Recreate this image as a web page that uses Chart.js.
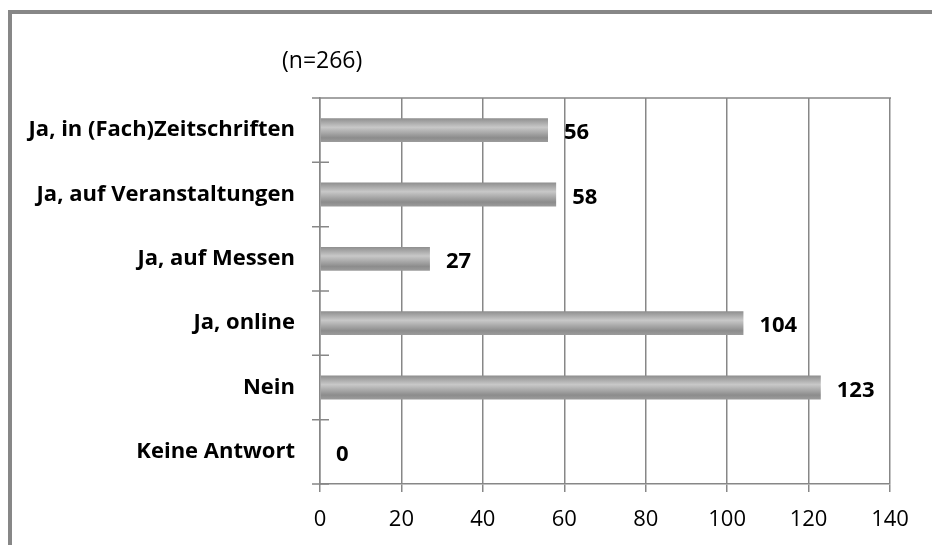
<!DOCTYPE html>
<html>
<head>
<meta charset="utf-8">
<script src="https://cdn.jsdelivr.net/npm/chart.js@4.4.0/dist/chart.umd.min.js"></script>
<style>
  html, body { margin: 0; padding: 0; background: #fff; }
  #wrap { position: relative; width: 932px; height: 545px; overflow: hidden; }
  #frame {
    position: absolute; left: 8px; top: 10px; width: 940px; height: 560px;
    border-left: 4px solid #878787; border-top: 4px solid #878787;
  }
  canvas { position: absolute; left: 0; top: 0; }
</style>
</head>
<body>
<div id="wrap">
  <div id="frame"></div>
  <canvas id="chart" width="932" height="545"></canvas>
</div>
<script>
// Data
const categories = ['Ja, in (Fach)Zeitschriften', 'Ja, auf Veranstaltungen', 'Ja, auf Messen', 'Ja, online', 'Nein', 'Keine Antwort'];
const answers = [56, 58, 27, 104, 123, 0];
const sampleNote = '(n=266)';
const xTicks = [0, 20, 40, 60, 80, 100, 120, 140];

const lineGray = '#878787';
const fontFamily = '"Open Sans", sans-serif';
const barPct = 0.37;

// one vertical gradient with a cylinder shading for every bar band
let gradCache = null;
function barGradient(context) {
    const chart = context.chart;
    const area = chart.chartArea;
    const yScale = chart.scales.y;
    if (!area || !yScale) return '#a8a8a8';
    const key = area.top + '-' + area.bottom;
    if (gradCache && gradCache.key === key) return gradCache.grad;

    const h = area.bottom - area.top;
    const band = h / categories.length;
    const half = band * barPct / 2;
    const g = chart.ctx.createLinearGradient(0, area.top, 0, area.bottom);
    const shade = [[0, '#8e8e8e'], [0.38, '#c8c8c8'], [0.82, '#8c8c8c'], [1, '#9c9c9c']];
    categories.forEach((c, i) => {
        const top = yScale.getPixelForValue(i) - half;
        shade.forEach(([f, col]) => {
            const pos = (top + f * half * 2 - area.top) / h;
            g.addColorStop(Math.min(1, Math.max(0, pos)), col);
        });
    });
    gradCache = { key: key, grad: g };
    return g;
}

// ticks crossing the category axis, top border, value labels, sample note
const extrasPlugin = {
    id: 'extras',
    afterDraw(chart) {
        const { ctx, chartArea } = chart;
        const y = chart.scales.y;
        ctx.save();
        ctx.strokeStyle = lineGray;
        ctx.lineWidth = 1.5;
        ctx.beginPath();
        ctx.moveTo(chartArea.left, chartArea.top);
        ctx.lineTo(chartArea.right + 1, chartArea.top);
        for (let i = 0; i <= categories.length; i++) {
            const py = y.getPixelForValue(i - 0.5);
            ctx.moveTo(chartArea.left - 8, py);
            ctx.lineTo(chartArea.left + 9, py);
        }
        ctx.stroke();

        // value labels
        const meta = chart.getDatasetMeta(0);
        ctx.fillStyle = '#000';
        ctx.font = 'bold 22px ' + fontFamily;
        ctx.textAlign = 'left';
        ctx.textBaseline = 'middle';
        meta.data.forEach((bar, i) => {
            ctx.fillText(String(answers[i]), bar.x + 16, bar.y + 3);
        });

        // sample size note
        ctx.font = '23px ' + fontFamily;
        ctx.textAlign = 'left';
        ctx.fillText(sampleNote, chartArea.left - 38, 61);
        ctx.restore();
    }
};

const ctx = document.getElementById('chart').getContext('2d');
new Chart(ctx, {
    type: 'bar',
    data: {
        labels: categories,
        datasets: [{
            data: answers,
            backgroundColor: barGradient,
            borderWidth: 0,
            categoryPercentage: 1,
            barPercentage: barPct
        }]
    },
    options: {
        indexAxis: 'y',
        responsive: false,
        animation: false,
        layout: { padding: { top: 98, right: 42, bottom: 0, left: 0 } },
        plugins: {
            legend: { display: false },
            tooltip: { enabled: false }
        },
        scales: {
            x: {
                min: xTicks[0],
                max: xTicks[xTicks.length - 1],
                afterBuildTicks: axis => { axis.ticks = xTicks.map(v => ({ value: v })); },
                grid: { color: lineGray, lineWidth: 1.5, tickLength: 8 },
                border: { color: lineGray, width: 1.5 },
                ticks: { color: '#000', font: { family: fontFamily, size: 22 }, padding: 15, maxRotation: 0 },
                afterFit: axis => { axis.height = 61; }
            },
            y: {
                grid: { display: false, drawTicks: false },
                border: { display: true, color: lineGray, width: 1.5 },
                ticks: { color: '#000', font: { family: fontFamily, size: 22, weight: 'bold' }, padding: 25 },
                afterFit: axis => { axis.width = 320; }
            }
        }
    },
    plugins: [extrasPlugin]
});
</script>
</body>
</html>
